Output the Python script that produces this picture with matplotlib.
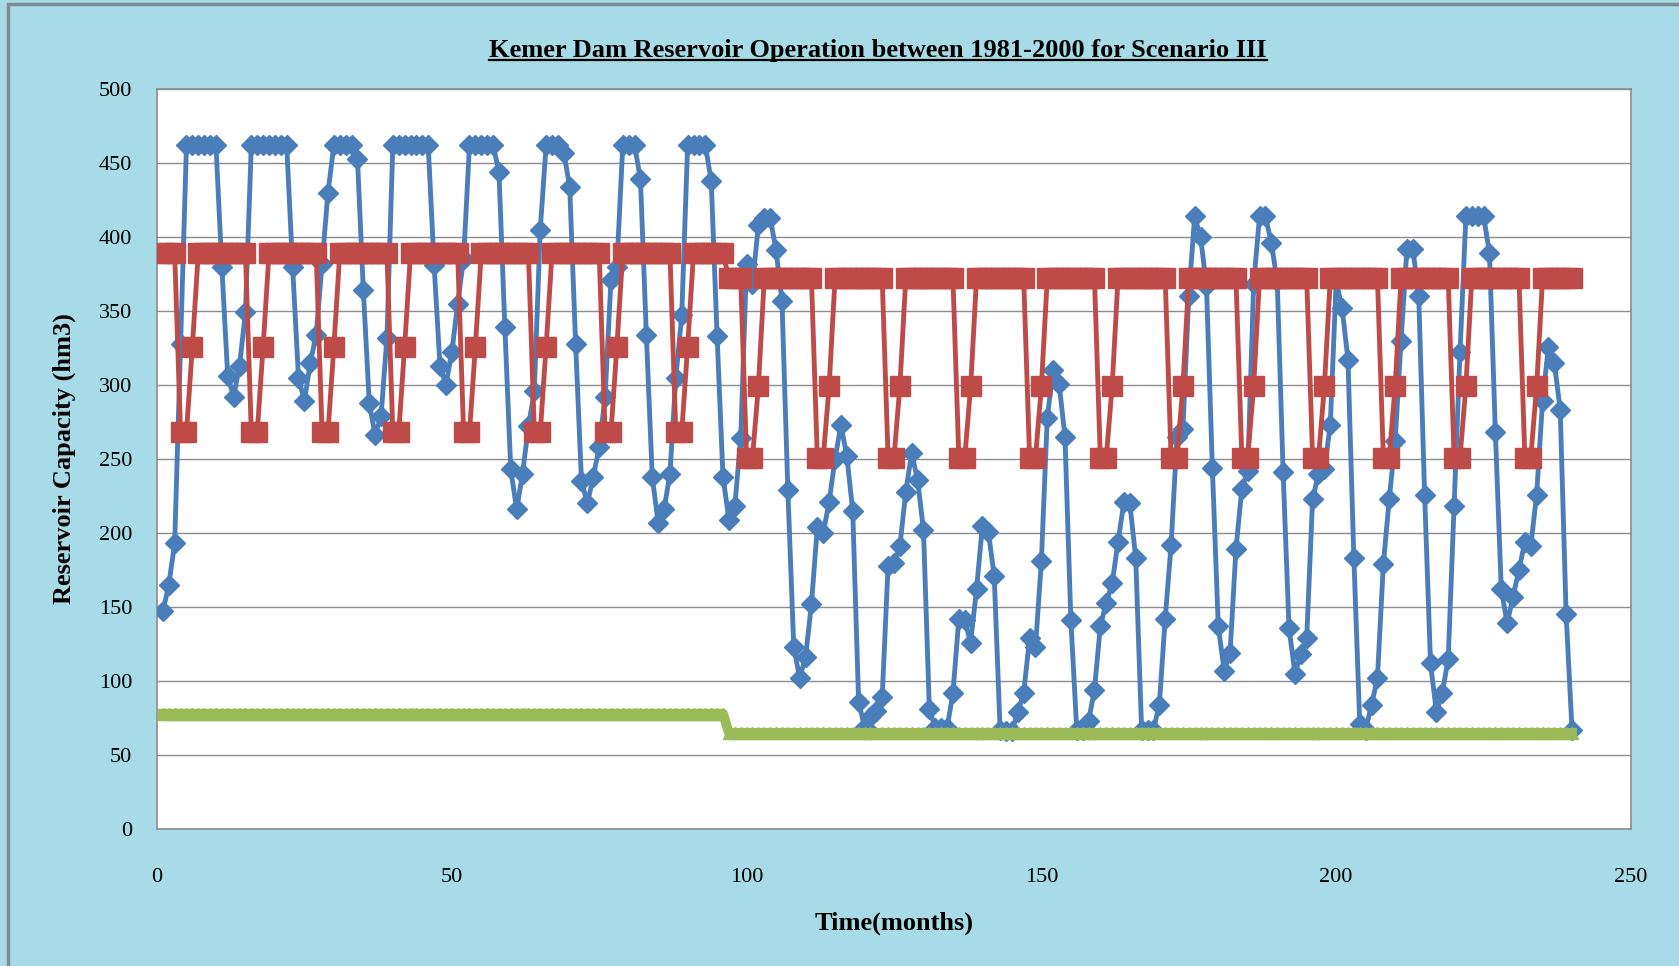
import numpy as np
import matplotlib
matplotlib.use("Agg")
import matplotlib.pyplot as plt
from matplotlib.lines import Line2D
from matplotlib.patches import Rectangle

# ── Data ───────────────────────────────────────────────────────────────────
months = np.arange(1, 241)

# reservoir storage (hm3), one row per year
storage_years = [
    [147, 165, 193, 328, 462, 462, 462, 462, 462, 462, 380, 306],
    [292, 313, 349, 462, 462, 462, 462, 462, 462, 462, 380, 305],
    [289, 315, 334, 382, 430, 462, 462, 462, 462, 453, 364, 288],
    [266, 279, 332, 462, 462, 462, 462, 462, 462, 462, 381, 313],
    [300, 322, 355, 385, 462, 462, 462, 462, 462, 444, 339, 243],
    [216, 240, 272, 296, 405, 462, 462, 462, 457, 434, 328, 235],
    [220, 238, 258, 292, 371, 380, 462, 462, 462, 439, 334, 238],
    [207, 216, 240, 305, 347, 462, 462, 462, 462, 438, 333, 238],
    [209, 218, 264, 382, 368, 408, 413, 413, 391, 357, 229, 123],
    [102, 116, 152, 204, 200, 221, 250, 273, 252, 215, 86, 69],
    [76, 80, 89, 178, 180, 191, 228, 254, 236, 202, 81, 68],
    [68, 68, 92, 142, 141, 126, 162, 205, 201, 171, 67, 66],
    [66, 79, 92, 129, 123, 181, 278, 310, 301, 265, 141, 67],
    [67, 73, 94, 137, 153, 166, 194, 221, 220, 183, 67, 67],
    [67, 84, 142, 192, 265, 270, 360, 414, 400, 367, 244, 137],
    [107, 119, 189, 230, 242, 368, 414, 414, 396, 370, 241, 136],
    [105, 118, 129, 223, 240, 243, 273, 370, 352, 317, 183, 71],
    [67, 84, 102, 179, 223, 262, 330, 392, 392, 360, 226, 112],
    [79, 92, 115, 218, 322, 414, 414, 414, 414, 389, 268, 162],
    [139, 157, 175, 194, 191, 226, 289, 326, 315, 283, 145, 67],
]
storage = np.concatenate(storage_years)

# rule curve: one yearly pattern for 1981-1988, another for 1989-2000
rule_year_a = [389, 389, 389, 268, 268, 326, 389, 389, 389, 389, 389, 389]
rule_year_b = [372, 372, 372, 251, 251, 299, 372, 372, 372, 372, 372, 372]
rule = np.concatenate([np.tile(rule_year_a, 8), np.tile(rule_year_b, 12)])

# minimum operation level
min_level_a = 78
min_level_b = 65
min_level = np.concatenate([np.full(96, min_level_a), np.full(144, min_level_b)])

x_ticks = [0, 50, 100, 150, 200, 250]
y_ticks = np.arange(0, 501, 50)

# ── Plot ───────────────────────────────────────────────────────────────────
plt.rcParams["font.family"] = ["Liberation Serif", "DejaVu Serif"]

fig = plt.figure(figsize=(16.79, 9.66), dpi=100, facecolor="#a6dbe7")
fig.patches.append(Rectangle((0.005, -0.01), 1.2, 1.006, transform=fig.transFigure,
                             fill=False, edgecolor="#7f8c90", linewidth=2.5))

ax = fig.add_axes([0.0935, 0.1418, 0.8779, 0.7661])
ax.set_facecolor("white")

ax.plot(months, storage, color="#4a7ebb", linewidth=3.5, marker="D",
        markersize=10, zorder=3)
ax.plot(months, rule, color="#be4b48", linewidth=3.5, marker="s",
        markersize=14, zorder=4)
ax.plot(months, min_level, color="#9bbb59", linewidth=7, marker="^",
        markersize=9, zorder=5)

ax.set_xlim(0, 250)
ax.set_ylim(0, 500)
ax.set_xticks(x_ticks)
ax.set_yticks(y_ticks)
ax.grid(axis="y", color="#8c8c8c", linewidth=1)
ax.set_axisbelow(True)
for s in ax.spines.values():
    s.set_color("#8c8c8c")
    s.set_linewidth(1.2)
ax.tick_params(axis="both", length=0, labelsize=16)
ax.tick_params(axis="x", pad=28)
ax.tick_params(axis="y", pad=18)

ax.set_xlabel("Time(months)", fontsize=19, fontweight="bold", labelpad=18)
ax.set_ylabel("Reservoir Capacity (hm3)", fontsize=19, fontweight="bold",
              labelpad=16)

title = fig.text(0.523, 0.948, "Kemer Dam Reservoir Operation between 1981-2000 for Scenario III",
                 ha="center", va="center", fontsize=19, fontweight="bold")

# underline the title like the original
fig.canvas.draw()
bb = title.get_window_extent().transformed(fig.transFigure.inverted())
fig.add_artist(Line2D([bb.x0, bb.x1], [bb.y0 + 0.002, bb.y0 + 0.002],
                      transform=fig.transFigure, color="black", linewidth=1.6))

fig.savefig("out.png", dpi=100, facecolor=fig.get_facecolor())
